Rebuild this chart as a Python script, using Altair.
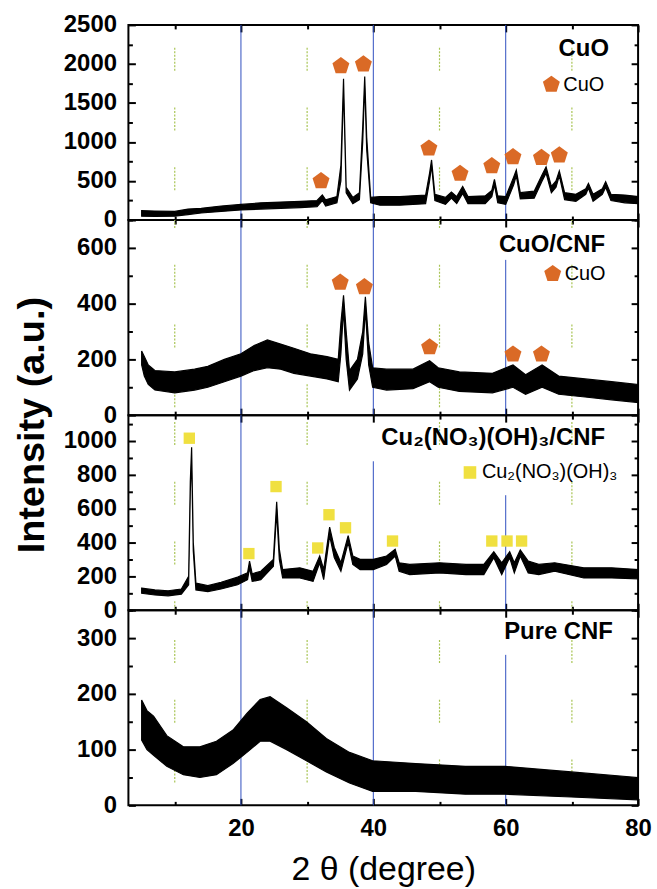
import altair as alt
import pandas as pd

FONT = "Liberation Sans"
X_DOMAIN = [3, 80]
W, H = 512, 196

# ---------------- spectra (band = noise envelope lo..hi) ----------------
P1_X = [5, 7, 10, 12, 14, 17, 20, 23, 26, 29, 31.5, 32.3, 32.8, 34.5, 35.1, 35.5, 35.9, 36.9, 37.9, 38.4,
        38.7, 39.0, 39.6, 41, 44, 47.9, 48.5, 48.8, 49.3, 50.9, 51.8, 52.6, 53.5, 54.3, 56.9, 57.9, 58.3, 58.8, 60, 61.2,
        61.6, 62.2, 64.3, 65.5, 66.1, 66.9, 67.6, 68.1, 68.9, 70.6, 72.1, 72.5, 73.2, 74.6, 75.1, 75.9, 78, 80]
P1_LO = [50, 45, 50, 70, 90, 110, 130, 140, 150, 160, 170, 250, 180, 220, 500, 1700, 350, 210, 260, 1000,
         1750, 900, 220, 190, 190, 210, 500, 700, 250, 200, 280, 210, 340, 210, 210, 300, 450, 220, 200, 450,
         570, 270, 280, 500, 600, 350, 420, 570, 260, 240, 330, 410, 240, 330, 420, 250, 220, 210]
P1_HI = [120, 115, 110, 140, 150, 180, 200, 220, 230, 240, 250, 320, 260, 300, 700, 1810, 420, 290, 350, 1200,
         1840, 1060, 290, 300, 300, 320, 600, 770, 330, 290, 360, 300, 430, 300, 310, 380, 520, 310, 300, 550,
         640, 350, 370, 580, 680, 430, 500, 630, 350, 330, 400, 470, 330, 400, 490, 330, 320, 300]

P2_X = [5.0, 5.4, 6, 7, 10, 13, 15, 17.5, 20, 22, 24, 26, 28, 30.5, 33, 34.7, 35.1, 35.5, 35.9, 36.4,
        37.6, 38.4, 38.8, 39.3, 39.9, 42, 46, 48.5, 49.8, 53, 58, 61.1, 63, 65.5, 68, 72, 76, 80]
P2_LO = [180, 140, 110, 90, 80, 90, 100, 120, 140, 160, 170, 165, 150, 140, 130, 120, 220, 380, 200, 90,
         130, 220, 380, 180, 100, 90, 95, 120, 100, 85, 80, 100, 75, 100, 75, 65, 55, 45]
P2_HI = [230, 210, 180, 160, 155, 165, 175, 200, 220, 250, 270, 255, 240, 220, 210, 200, 330, 430, 300, 160,
         200, 300, 425, 260, 170, 165, 165, 195, 170, 155, 150, 180, 145, 180, 140, 130, 120, 110]

P3_X = [5, 7, 9, 11, 12.1, 12.35, 12.55, 12.8, 13.2, 15, 17, 19.5, 21.0, 21.3, 21.7, 23, 24.9, 25.4, 25.8, 26.3,
        28.9, 30.9, 31.9, 32.5, 33.4, 34.1, 35.1, 36.2, 36.9, 38, 40, 42, 43.3, 43.9, 45.5, 50, 54, 56.7, 58.2, 59.4,
        60.6, 61.3, 62.2, 63.4, 65, 67.4, 71.8, 76, 80]
P3_LO = [100, 90, 85, 95, 150, 700, 900, 350, 120, 110, 125, 150, 180, 250, 170, 180, 260, 580, 300, 190,
         190, 170, 280, 180, 440, 310, 230, 400, 270, 240, 240, 270, 320, 230, 210, 220, 210, 210, 310, 210,
         310, 220, 320, 220, 210, 230, 190, 190, 185]
P3_HI = [130, 120, 115, 125, 200, 760, 960, 400, 160, 145, 165, 195, 220, 290, 215, 230, 300, 640, 360, 240,
         250, 230, 320, 240, 490, 370, 280, 440, 320, 300, 300, 320, 360, 280, 270, 280, 270, 270, 345, 280,
         345, 280, 355, 290, 270, 280, 250, 250, 240]

P4_X = [5.0, 5.8, 6.8, 8.8, 11.3, 13.8, 16.3, 18.8, 20.9, 22.9, 24.4, 26.9, 29.9, 32.9, 36.4, 39.9, 46.4, 53.9, 59.9, 69.9, 79.9]
P4_LO = [117, 100, 90, 70, 55, 50, 55, 75, 95, 115, 115, 100, 80, 60, 40, 25, 25, 20, 20, 15, 10]
P4_HI = [189, 170, 160, 125, 105, 105, 115, 135, 165, 190, 195, 175, 150, 120, 95, 80, 75, 70, 70, 60, 50]

# ---------------- phase markers ----------------
P1_MX = [32.1, 35.1, 38.5, 48.4, 53.1, 57.9, 61.1, 65.4, 68.1]
P1_MY = [500, 1974, 1996, 919, 594, 692, 808, 799, 830]
P2_MX = [35.0, 38.65, 48.5, 61.1, 65.4]
P2_MY = [476, 460, 244, 218, 218]
P3_MX = [12.2, 21.2, 25.3, 31.6, 33.3, 35.8, 42.9, 57.9, 60.2, 62.4]
P3_MY = [1014, 334, 729, 367, 563, 486, 408, 408, 408, 408]

# ---------------- panel settings ----------------
Y_MAX = [2500, 700, 1150, 350]
Y_MAJOR = [[0, 500, 1000, 1500, 2000, 2500], [0, 200, 400, 600], [0, 200, 400, 600, 800, 1000], [0, 100, 200, 300]]
Y_MINOR = [[250, 750, 1250, 1750, 2250], [100, 300, 500, 700], [100, 300, 500, 700, 900, 1100], [50, 150, 250, 350]]
X_MAJOR = [20, 40, 60, 80]
X_MINOR = [10, 30, 50, 70]
BLUE_X = [20, 40, 60]
BLUE_TOP = [[2500, 2500, 2500], [700, 700, 557], [1150, 878, 678], [350, 350, 270]]
DASH_OFF = [37, 15, 53, 30]

TITLES = ["CuO", "CuO/CNF", "Cu\u2082(NO\u2083)(OH)\u2083/CNF", "Pure CNF"]
TITLE_X = [75.6, 75.0, 75.0, 76.2]
TITLE_Y = [2196, 612, 1013, 311]

PENTAGON = "M0,-1L0.951,-0.309L0.588,0.809L-0.588,0.809L-0.951,-0.309Z"
ORANGE = "#DA6A26"
YELLOW = "#F0E040"


def ax(orient, values, size, labels=False, title=None, **kw):
    return alt.Axis(orient=orient, values=values, tickSize=size, offset=-size, labels=labels,
                    domain=False, grid=False, ticks=True, tickWidth=2, tickColor="black",
                    labelFont=FONT, labelFontSize=24, labelFontWeight="bold", labelColor="black",
                    labelFlush=False, labelOverlap=False, format="d", title=title, **kw)


def panel(i, xs, lo, hi, markers=None, legend=None, ytitle=False):
    ymax = Y_MAX[i]
    bottom = i == 3
    xsc = alt.Scale(domain=X_DOMAIN, nice=False, zero=False)
    ysc = alt.Scale(domain=[0, ymax], nice=False)
    band = pd.DataFrame({"x": xs, "lo": lo, "hi": hi})

    dots = pd.DataFrame({"x": X_MINOR, "top": [ymax] * 4, "bot": [0] * 4})
    dotted = alt.Chart(dots).mark_rule(color="#A8C454", strokeWidth=1.2, strokeDash=[2, 1.5] * 6 + [2, 37],
                                       strokeDashOffset=DASH_OFF[i]).encode(
        x=alt.X("x:Q", scale=xsc, axis=None), y=alt.Y("top:Q", scale=ysc, axis=None), y2="bot:Q")

    blues = pd.DataFrame({"x": BLUE_X, "top": BLUE_TOP[i], "bot": [0] * 3})
    blue = alt.Chart(blues).mark_rule(color="#2F4FBF", strokeWidth=1).encode(
        x=alt.X("x:Q", scale=xsc, axis=None), y=alt.Y("top:Q", scale=ysc, axis=None), y2="bot:Q")

    xt_kw = {}
    if bottom:
        xt_kw = dict(titleFont=FONT, titleFontSize=34, titleFontWeight="normal", titleColor="black",
                     titlePadding=12)
    area = alt.Chart(band).mark_area(color="black", stroke="black", strokeWidth=1.2, opacity=1).encode(
        x=alt.X("x:Q", scale=xsc, axis=ax("bottom", X_MAJOR, 7, labels=bottom,
                                         title="2 \u03b8 (degree)" if bottom else None,
                                         labelPadding=11, **xt_kw)),
        y=alt.Y("hi:Q", scale=ysc, axis=ax("left", Y_MAJOR[i], 7, labels=True, labelPadding=12)),
        y2="lo:Q")

    def holder(xaxis, yaxis):
        return alt.Chart(band).mark_point(opacity=0).encode(
            x=alt.X("x:Q", scale=xsc, axis=xaxis), y=alt.Y("hi:Q", scale=ysc, axis=yaxis))

    h1 = holder(ax("bottom", X_MINOR, 4), ax("left", Y_MINOR[i], 4))
    h2 = holder(ax("top", X_MAJOR, 7), ax("right", Y_MAJOR[i], 7))
    h3 = holder(ax("top", X_MINOR, 4), ax("right", Y_MINOR[i], 4))

    layers = [dotted, blue, area, h1, h2, h3]

    if markers is not None:
        mx, my, shape, color, size = markers
        mdf = pd.DataFrame({"x": mx, "y": my})
        layers.append(alt.Chart(mdf).mark_point(shape=shape, filled=True, color=color, opacity=1,
                                                size=size, strokeWidth=0).encode(
            x=alt.X("x:Q", scale=xsc, axis=None), y=alt.Y("y:Q", scale=ysc, axis=None)))

    tdf = pd.DataFrame({"x": [TITLE_X[i]], "y": [TITLE_Y[i]], "t": [TITLES[i]]})
    layers.append(alt.Chart(tdf).mark_text(font=FONT, fontSize=24, fontWeight="bold", align="right",
                                           baseline="middle", color="black").encode(
        x=alt.X("x:Q", scale=xsc, axis=None), y=alt.Y("y:Q", scale=ysc, axis=None), text="t:N"))

    if legend is not None:
        lx, ly, ltext, shape, color, size = legend
        ldf = pd.DataFrame({"x": [lx], "y": [ly], "t": [ltext]})
        layers.append(alt.Chart(ldf).mark_point(shape=shape, filled=True, color=color, opacity=1,
                                                size=size, strokeWidth=0).encode(
            x=alt.X("x:Q", scale=xsc, axis=None), y=alt.Y("y:Q", scale=ysc, axis=None)))
        layers.append(alt.Chart(ldf).mark_text(font=FONT, fontSize=20, align="left", baseline="middle",
                                               dx=12, color="black").encode(
            x=alt.X("x:Q", scale=xsc, axis=None), y=alt.Y("y:Q", scale=ysc, axis=None), text="t:N"))

    if ytitle:
        ydf = pd.DataFrame({"x": [-11.4], "y": [-36], "t": ["Intensity (a.u.)"]})
        layers.append(alt.Chart(ydf).mark_text(font=FONT, fontSize=38, fontWeight="bold", angle=270,
                                               align="center", baseline="middle", color="black").encode(
            x=alt.X("x:Q", scale=xsc, axis=None), y=alt.Y("y:Q", scale=ysc, axis=None), text="t:N"))

    return alt.layer(*layers).resolve_axis(x="independent", y="independent").properties(width=W, height=H)


p1 = panel(0, P1_X, P1_LO, P1_HI,
           markers=(P1_MX, P1_MY, PENTAGON, ORANGE, 320),
           legend=(66.9, 1735, "CuO", PENTAGON, ORANGE, 320))
p2 = panel(1, P2_X, P2_LO, P2_HI,
           markers=(P2_MX, P2_MY, PENTAGON, ORANGE, 320),
           legend=(67.1, 507, "CuO", PENTAGON, ORANGE, 320), ytitle=True)
p3 = panel(2, P3_X, P3_LO, P3_HI,
           markers=(P3_MX, P3_MY, "square", YELLOW, 130),
           legend=(54.6, 812, "Cu\u2082(NO\u2083)(OH)\u2083", "square", YELLOW, 160))
p4 = panel(3, P4_X, P4_LO, P4_HI)

chart = alt.VConcatChart(vconcat=[p1, p2, p3, p4], spacing=0, bounds="flush").properties(
    padding={"left": 13, "top": 10, "right": 4, "bottom": 2},
    background="white",
).configure_view(stroke="black", strokeWidth=2)

chart.save("out.html", embed_options={"renderer": "svg", "actions": False})
